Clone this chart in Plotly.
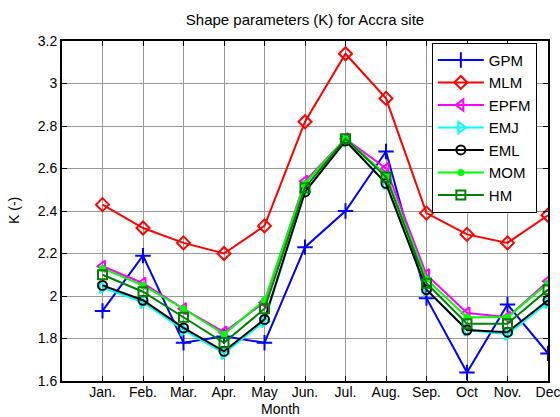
import plotly.graph_objects as go

months = ["Jan.", "Feb.", "Mar.", "Apr.", "May", "Jun.", "Jul.", "Aug.", "Sep.", "Oct", "Nov.", "Dec"]
month_pos = [1, 2, 3, 4, 5, 6, 7, 8, 9, 10, 11, 12]

gpm = [1.93, 2.19, 1.78, 1.81, 1.78, 2.23, 2.40, 2.68, 1.99, 1.64, 1.96, 1.73]
mlm = [2.43, 2.32, 2.25, 2.20, 2.33, 2.82, 3.14, 2.93, 2.39, 2.29, 2.25, 2.38]
epfm = [2.14, 2.06, 1.94, 1.83, 1.97, 2.54, 2.74, 2.60, 2.10, 1.92, 1.90, 2.07]
emj = [2.04, 1.97, 1.84, 1.73, 1.88, 2.49, 2.73, 2.53, 2.03, 1.84, 1.82, 1.97]
eml = [2.05, 1.98, 1.85, 1.74, 1.89, 2.49, 2.73, 2.53, 2.03, 1.84, 1.83, 1.98]
mom = [2.13, 2.05, 1.94, 1.82, 1.98, 2.53, 2.74, 2.57, 2.08, 1.90, 1.90, 2.06]
hm = [2.10, 2.02, 1.90, 1.78, 1.94, 2.51, 2.74, 2.56, 2.06, 1.87, 1.87, 2.03]

y_ticks = [1.6, 1.8, 2.0, 2.2, 2.4, 2.6, 2.8, 3.0, 3.2]
y_tick_text = ["1.6", "1.8", "2", "2.2", "2.4", "2.6", "2.8", "3", "3.2"]

series = [
    ("GPM", gpm, "#0000ff", "cross-thin-open", 11),
    ("MLM", mlm, "#ff0000", "diamond-open", 10),
    ("EPFM", epfm, "#ff00ff", "triangle-left-open", 10),
    ("EMJ", emj, "#00ffff", "triangle-right-open", 10),
    ("EML", eml, "#000000", "circle-open", 9),
    ("MOM", mom, "#00ff00", "circle", 5),
    ("HM", hm, "#008000", "square-open", 9),
]

fig = go.Figure()
for name, vals, color, symbol, size in series:
    fig.add_trace(go.Scatter(
        x=month_pos, y=vals, name=name, mode="lines+markers",
        line=dict(color=color, width=2),
        marker=dict(symbol=symbol, size=size, color=color,
                    line=dict(color=color, width=2)),
    ))

font_family = "Liberation Sans, Arial, sans-serif"
axis_common = dict(
    showline=True, linecolor="black", linewidth=2, mirror="allticks",
    ticks="inside", ticklen=5, tickcolor="black", tickwidth=1,
    showgrid=True, gridcolor="#999999", gridwidth=1, zeroline=False,
    automargin=False, ticklabeloverflow="allow",
    tickfont=dict(size=14, color="black", family=font_family),
)

fig.update_layout(
    width=560, height=417,
    margin=dict(l=62, r=12, t=41, b=36),
    paper_bgcolor="white", plot_bgcolor="white",
    font=dict(family=font_family, color="black"),
    title=dict(text="Shape parameters (K) for Accra site", x=0.5, xref="paper",
               xanchor="center", y=0.952, yanchor="middle", font=dict(size=15)),
    xaxis=dict(range=[0, 12], tickvals=month_pos, ticktext=months,
               ticklabelstandoff=-3, **axis_common),
    yaxis=dict(range=[1.6, 3.2], tickvals=y_ticks, ticktext=y_tick_text, **axis_common),
    legend=dict(x=0.761, y=0.995, xanchor="left", yanchor="top",
                bgcolor="white", bordercolor="black", borderwidth=1,
                font=dict(size=15, color="black"), itemwidth=46,
                tracegroupgap=0),
    showlegend=True,
)

# Axis titles placed in pixel terms below/left of the plot area
fig.add_annotation(text="Month", xref="paper", yref="paper", x=0.45, y=0,
                   yshift=-28, xanchor="center", yanchor="middle", showarrow=False,
                   font=dict(size=14))
fig.add_annotation(text="K (-)", xref="paper", yref="paper", x=0, y=0.5,
                   xshift=-48, xanchor="center", yanchor="middle", showarrow=False,
                   textangle=-90, font=dict(size=14))

fig.write_html("out.html")
